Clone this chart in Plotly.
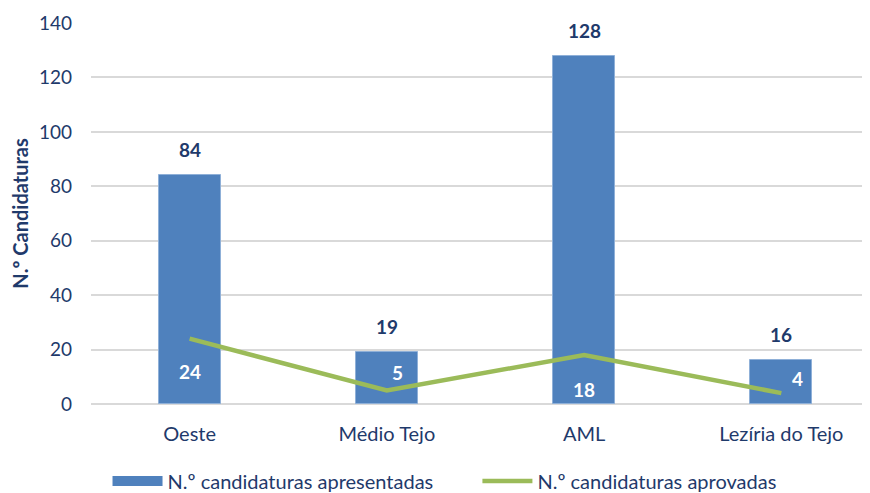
import plotly.graph_objects as go

# data
regioes = ["Oeste", "Médio Tejo", "AML", "Lezíria do Tejo"]
apresentadas = [84, 19, 128, 16]
aprovadas = [24, 5, 18, 4]

# label offsets (px) for the approved-values labels, as in the original
apr_xshift = [0, 11, 0, 16]
apr_yshift = [-33, 18, -34, 15]

azul = "#4F81BD"
verde = "#9BBB59"
texto = "#1F3A6B"
fonte = "Lato"

fig = go.Figure()

fig.add_trace(go.Bar(x=regioes, y=apresentadas, showlegend=False,
                     marker=dict(color=azul, line=dict(color="#8FB0D8", width=1)),
                     width=0.315))

fig.add_trace(go.Scatter(x=regioes, y=aprovadas, name="N.º candidaturas aprovadas",
                         mode="lines", line=dict(color=verde, width=4.5), legend="legend2"))

# legend entry for the bars drawn as a wide rectangle (like the original)
fig.add_trace(go.Scatter(x=[None], y=[None], name="N.º candidaturas apresentadas",
                         mode="lines", line=dict(color=azul, width=10), legend="legend"))

for i, reg in enumerate(regioes):
    # bar value above each bar
    fig.add_annotation(x=reg, y=apresentadas[i], text=str(apresentadas[i]), showarrow=False,
                       yanchor="bottom", yshift=12,
                       font=dict(family=fonte, size=19, color=texto, weight="bold"))
    # approved value, white inside the bar
    fig.add_annotation(x=reg, y=aprovadas[i], text=str(aprovadas[i]), showarrow=False,
                       xshift=apr_xshift[i], yshift=apr_yshift[i],
                       font=dict(family=fonte, size=19, color="white", weight="bold"))

leg = dict(orientation="h", yanchor="middle", y=-0.202, xanchor="left", itemwidth=50,
           font=dict(family=fonte, size=20, color=texto), bgcolor="rgba(0,0,0,0)")

# page body adds an 8px offset, so the figure is shifted up/left by 8px
fig.update_layout(
    width=870, height=485,
    margin=dict(l=83, r=0, t=15, b=89, autoexpand=False),
    plot_bgcolor="white", paper_bgcolor="white",
    font=dict(family=fonte, size=19, color=texto),
    bargap=0,
    showlegend=True,
    legend=dict(leg, x=0.021),
    legend2=dict(leg, x=0.491),
)

fig.update_xaxes(range=[-0.5, 3.49], showgrid=False, showline=False, ticks="", automargin=False,
                 ticklabelstandoff=16, tickfont=dict(size=20, color=texto))
fig.update_yaxes(range=[0, 140], dtick=20, showgrid=True, gridcolor="#D9D9D9", gridwidth=1.5,
                 zeroline=True, zerolinecolor="#D9D9D9", zerolinewidth=1.5, showline=False,
                 automargin=False,
                 ticklabelstandoff=18, tickfont=dict(size=19, color=texto),
                 title=dict(text="<b>N.º Candidaturas</b>", standoff=20,
                            font=dict(family=fonte, size=20, color=texto)))

fig.write_html("out.html")
